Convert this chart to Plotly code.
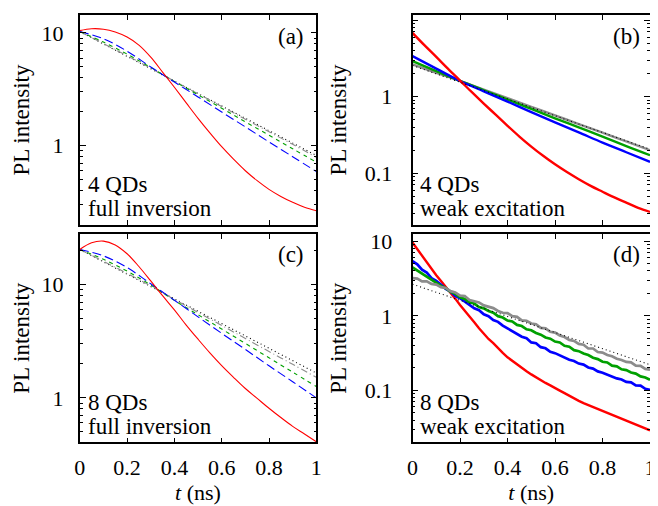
import plotly.graph_objects as go
from plotly.subplots import make_subplots
import math

# time grids (ns)
t05 = [0, 0.05, 0.1, 0.15, 0.2, 0.25, 0.3, 0.35, 0.4, 0.45, 0.5,
       0.55, 0.6, 0.65, 0.7, 0.75, 0.8, 0.85, 0.9, 0.95, 1.0]
t10 = [0, 0.1, 0.2, 0.3, 0.4, 0.5, 0.6, 0.7, 0.8, 0.9, 1.0]
t02 = [round(0.02 * i, 2) for i in range(51)]
t_ends = [0, 1]

# (a) 4 QDs, full inversion
red_a = [10.5, 10.9, 10.8, 10.2, 9.2, 7.8, 6.1, 4.5, 3.3, 2.4, 1.75,
         1.3, 0.98, 0.76, 0.60, 0.49, 0.41, 0.355, 0.315, 0.285, 0.265]
blue_a = [10.3, 8.9, 6.9, 5.0, 3.67, 2.71, 1.99, 1.47, 1.08, 0.80, 0.59]
green_a = [10.3, 8.3, 6.5, 4.95, 3.72, 2.83, 2.15, 1.63, 1.24, 0.94, 0.715]
gray_a = [10.3, 8.05, 6.28, 4.87, 3.74, 2.89, 2.23, 1.72, 1.33, 1.03, 0.79]
black_a = [10.3, 0.82]

# (b) 4 QDs, weak excitation
red_b = [6.8, 4.7, 3.3, 2.3, 1.62, 1.14, 0.81, 0.58, 0.415, 0.30, 0.222,
         0.168, 0.13, 0.103, 0.083, 0.068, 0.057, 0.048, 0.041, 0.035, 0.031]
blue_b = [3.38, 2.32, 1.6, 1.17, 0.86, 0.625, 0.46, 0.34, 0.25, 0.187, 0.14]
green_b = [2.91, 2.15, 1.6, 1.21, 0.915, 0.69, 0.52, 0.395, 0.30, 0.225, 0.171]
gray_b = [2.64, 2.05, 1.6, 1.235, 0.953, 0.735, 0.567, 0.437, 0.337, 0.26, 0.199]
black_b = [2.55, 0.205]

# (c) 8 QDs, full inversion
red_c = [20.5, 23.5, 24.3, 22.5, 18.8, 14.5, 10.8, 8.0, 6.0, 4.4, 3.3,
         2.5, 1.93, 1.52, 1.21, 0.99, 0.81, 0.67, 0.56, 0.48, 0.41]
blue_c = [20.5, 18.0, 14.2, 10.2, 7.3, 5.2, 3.72, 2.68, 1.92, 1.39, 1.0]
green_c = [20.5, 16.8, 13.2, 9.95, 7.27, 5.43, 4.06, 3.03, 2.26, 1.69, 1.26]
gray_c = [20.5, 16.1, 12.6, 9.75, 7.42, 5.69, 4.37, 3.35, 2.57, 1.98, 1.52]
black_c = [20.5, 1.66]

# (d) 8 QDs, weak excitation (noisy data, 0.02 ns steps)
red_d = [9.6,
         7.8, 6.5, 5.2, 4.35, 3.5,
         2.92, 2.46, 2.03, 1.70, 1.40,
         1.18, 0.97, 0.82, 0.68, 0.575,
         0.49, 0.43, 0.365, 0.318, 0.278,
         0.248, 0.223, 0.199, 0.181, 0.164,
         0.149, 0.139, 0.126, 0.117, 0.107,
         0.0995, 0.092, 0.0845, 0.0785, 0.0725,
         0.0675, 0.0635, 0.0595, 0.0562, 0.0528,
         0.0502, 0.0466, 0.0441, 0.0416, 0.0388,
         0.0370, 0.0343, 0.0328, 0.0306, 0.0291]
blue_d = [5.4,
          4.9, 4.15, 3.8, 3.2, 2.95,
          2.6, 2.3, 2.12, 1.85, 1.72,
          1.55, 1.41, 1.26, 1.19, 1.05,
          0.99, 0.88, 0.83, 0.74, 0.68,
          0.625, 0.58, 0.525, 0.50, 0.44,
          0.43, 0.38, 0.367, 0.33, 0.316,
          0.296, 0.28, 0.258, 0.248, 0.229,
          0.222, 0.203, 0.196, 0.18, 0.173,
          0.163, 0.155, 0.145, 0.14, 0.13,
          0.128, 0.117, 0.116, 0.105, 0.102]
green_d = [4.45,
           4.05, 3.62, 3.36, 3.02, 2.8,
           2.52, 2.34, 2.1, 1.97, 1.77,
           1.68, 1.52, 1.46, 1.31, 1.26,
           1.16, 1.10, 0.99, 0.95, 0.865,
           0.84, 0.755, 0.73, 0.66, 0.64,
           0.59, 0.56, 0.512, 0.494, 0.452,
           0.44, 0.397, 0.385, 0.347, 0.336,
           0.312, 0.298, 0.274, 0.263, 0.242,
           0.237, 0.215, 0.21, 0.192, 0.187,
           0.174, 0.168, 0.154, 0.149, 0.139]
gray_d = [3.2,
          3.15, 2.9, 2.9, 2.68, 2.62,
          2.42, 2.36, 2.14, 2.06, 1.86,
          1.84, 1.63, 1.56, 1.51, 1.38,
          1.31, 1.27, 1.16, 1.10, 1.09,
          0.99, 0.97, 0.87, 0.86, 0.79,
          0.77, 0.69, 0.68, 0.61, 0.595,
          0.545, 0.52, 0.475, 0.46, 0.42,
          0.41, 0.365, 0.365, 0.327, 0.322,
          0.298, 0.287, 0.266, 0.256, 0.241,
          0.238, 0.215, 0.214, 0.194, 0.19]
black_d = [2.65, 0.221]

x_ticks = [0, 0.2, 0.4, 0.6, 0.8, 1]
x_labels = ["0", "0.2", "0.4", "0.6", "0.8", "1"]

RED, BLUE, GREEN, GRAY, BLACK = "#ff0000", "#0000ff", "#00a000", "#8c8c8c", "#000000"
FONT = "Liberation Serif, Times New Roman, Tinos, DejaVu Serif, serif"

fig = make_subplots(rows=2, cols=2)


def thin(x, y, color, dash, row, col, shape="linear"):
    fig.add_trace(go.Scatter(x=x, y=y, mode="lines", line_shape=shape,
                             line=dict(color=color, width=1.1, dash=dash),
                             showlegend=False), row=row, col=col)


def thick(x, y, color, row, col, width=2.4, shape="linear"):
    fig.add_trace(go.Scatter(x=x, y=y, mode="lines", line_shape=shape,
                             line=dict(color=color, width=width),
                             showlegend=False), row=row, col=col)


# (a)
thin(t_ends, black_a, BLACK, "1px,3px", 1, 1)
thin(t10, gray_a, GRAY, "7px,3px,1px,3px", 1, 1, "spline")
thin(t10, green_a, GREEN, "4px,4px", 1, 1, "spline")
thin(t10, blue_a, BLUE, "9px,4px", 1, 1, "spline")
thin(t05, red_a, RED, "solid", 1, 1, "spline")

# (c)
thin(t_ends, black_c, BLACK, "1px,3px", 2, 1)
thin(t10, gray_c, GRAY, "7px,3px,1px,3px", 2, 1, "spline")
thin(t10, green_c, GREEN, "4px,4px", 2, 1, "spline")
thin(t10, blue_c, BLUE, "9px,4px", 2, 1, "spline")
thin(t05, red_c, RED, "solid", 2, 1, "spline")

# (b)
thick(t10, gray_b, GRAY, 1, 2, shape="spline")
thick(t10, green_b, GREEN, 1, 2, shape="spline")
thick(t10, blue_b, BLUE, 1, 2, shape="spline")
thick(t05, red_b, RED, 1, 2, shape="spline")
thin(t_ends, black_b, BLACK, "1px,3px", 1, 2)

# (d)
thick(t02, red_d, RED, 2, 2, width=2.4)
thick(t02, blue_d, BLUE, 2, 2, width=2.7)
thick(t02, green_d, GREEN, 2, 2, width=2.7)
thick(t02, gray_d, GRAY, 2, 2, width=2.7)
thin(t_ends, black_d, BLACK, "1px,3px", 2, 2)

# the page body adds an 8px offset, so the figure is drawn 8px smaller
OFF = 8
W, H = 658 - OFF, 506 - OFF
xdom_l = [(75 - OFF) / W, (316 - OFF) / W]
xdom_r = [(414 - OFF) / W, (656 - OFF) / W]
ydom_t = [(H - (221.7 - OFF)) / H, (H - (10.5 - OFF)) / H]
ydom_b = [(H - (441.7 - OFF)) / H, (H - (231.3 - OFF)) / H]

minor_vals = [m * 10 ** e for e in range(-2, 2) for m in range(2, 10)]

common_x = dict(range=[0, 1], tickmode="array", tickvals=x_ticks, ticktext=x_labels,
                ticks="inside", ticklen=5, tickwidth=1, tickcolor="black",
                showline=True, linecolor="black", linewidth=1.5, mirror="ticks",
                showgrid=False, zeroline=False, ticklabelstandoff=5,
                tickfont=dict(family=FONT, size=22, color="black"))
common_y = dict(type="log", ticks="inside", ticklen=6, tickwidth=1, tickcolor="black",
                showline=True, linecolor="black", linewidth=1.5, mirror="ticks",
                showgrid=False, zeroline=False,
                minor=dict(ticks="inside", ticklen=3, tickwidth=1, tickcolor="black",
                           tickmode="array", tickvals=minor_vals, showgrid=False),
                tickfont=dict(family=FONT, size=22, color="black"))

ytitle = dict(text="PL intensity", font=dict(family=FONT, size=23, color="black"))
xtitle = dict(text="<i>t</i> (ns)", font=dict(family=FONT, size=22, color="black"), standoff=2)

fig.update_layout(
    xaxis=dict(common_x, domain=xdom_l, showticklabels=False, anchor="y"),
    xaxis2=dict(common_x, domain=xdom_r, showticklabels=False, anchor="y2"),
    xaxis3=dict(common_x, domain=xdom_l, anchor="y3", title=xtitle),
    xaxis4=dict(common_x, domain=xdom_r, anchor="y4", title=xtitle),
    yaxis=dict(common_y, domain=ydom_t, anchor="x", ticklabelstandoff=10,
               title=dict(ytitle, standoff=6),
               range=[math.log10(0.2), math.log10(14.3)],
               tickvals=[1, 10], ticktext=["1", "10"]),
    yaxis2=dict(common_y, domain=ydom_t, anchor="x2", ticklabelstandoff=14,
                title=dict(ytitle, standoff=12),
                range=[math.log10(0.0212), math.log10(11.5)],
                tickvals=[0.1, 1, 10], ticktext=["0.1", "1", "10"]),
    yaxis3=dict(common_y, domain=ydom_b, anchor="x3", ticklabelstandoff=10,
                title=dict(ytitle, standoff=6),
                range=[-0.393, 1.448],
                tickvals=[1, 10], ticktext=["1", "10"]),
    yaxis4=dict(common_y, domain=ydom_b, anchor="x4", ticklabelstandoff=14,
                title=dict(ytitle, standoff=12),
                range=[-1.696, 1.096],
                tickvals=[0.1, 1, 10], ticktext=["0.1", "1", "10"]),
    width=W, height=H,
    margin=dict(l=0, r=0, t=0, b=0),
    paper_bgcolor="white", plot_bgcolor="white",
    font=dict(family=FONT, size=22, color="black"),
)

labels = [
    ("x", "y", "(a)", 0.955, "4 QDs", "full inversion"),
    ("x2", "y2", "(b)", 0.967, "4 QDs", "weak excitation"),
    ("x3", "y3", "(c)", 0.955, "8 QDs", "full inversion"),
    ("x4", "y4", "(d)", 0.967, "8 QDs", "weak excitation"),
]
for xr, yr, tag, xt, l1, l2 in labels:
    fig.add_annotation(xref=xr + " domain", yref=yr + " domain", x=xt, y=0.9,
                       text=tag, showarrow=False, xanchor="right", yanchor="middle",
                       font=dict(family=FONT, size=23, color="black"))
    fig.add_annotation(xref=xr + " domain", yref=yr + " domain", x=0.025, y=0.19,
                       text=l1, showarrow=False, xanchor="left", yanchor="middle",
                       font=dict(family=FONT, size=23, color="black"))
    fig.add_annotation(xref=xr + " domain", yref=yr + " domain", x=0.025, y=0.075,
                       text=l2, showarrow=False, xanchor="left", yanchor="middle",
                       font=dict(family=FONT, size=23, color="black"))

fig.write_html("out.html")
